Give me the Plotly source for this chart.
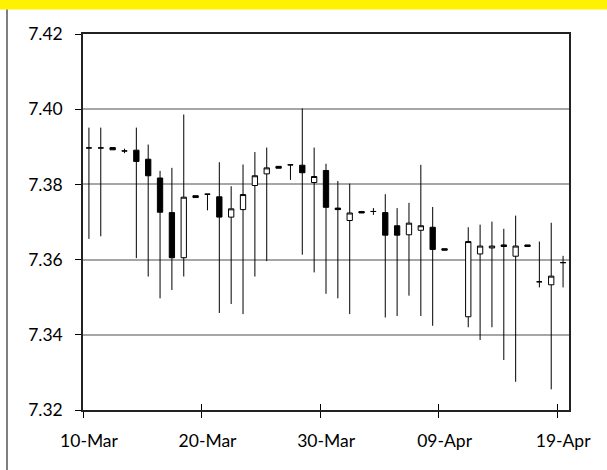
import pandas as pd
import plotly.graph_objects as go

dates = ["2020-03-10", "2020-03-11", "2020-03-12", "2020-03-13", "2020-03-14", "2020-03-15",
         "2020-03-16", "2020-03-17", "2020-03-18", "2020-03-19", "2020-03-20", "2020-03-21",
         "2020-03-22", "2020-03-23", "2020-03-24", "2020-03-25", "2020-03-26", "2020-03-27",
         "2020-03-28", "2020-03-29", "2020-03-30", "2020-03-31", "2020-04-01", "2020-04-02",
         "2020-04-03", "2020-04-04", "2020-04-05", "2020-04-06", "2020-04-07", "2020-04-08",
         "2020-04-09", "2020-04-11", "2020-04-12", "2020-04-13", "2020-04-14", "2020-04-15",
         "2020-04-16", "2020-04-17", "2020-04-18", "2020-04-19"]
open_ = [7.3897, 7.3897, 7.3898, 7.3889, 7.3891, 7.3867, 7.3817, 7.3725, 7.3605, 7.3770,
         7.3774, 7.3767, 7.3713, 7.3733, 7.3797, 7.3828, 7.3848, 7.3852, 7.3851, 7.3805,
         7.3837, 7.3737, 7.3704, 7.3728, 7.3728, 7.3725, 7.3690, 7.3666, 7.3678, 7.3686,
         7.3629, 7.3448, 7.3615, 7.3631, 7.3639, 7.3609, 7.3639, 7.3541, 7.3533, 7.3592]
high = [7.3951, 7.3951, 7.3898, 7.3895, 7.3951, 7.3906, 7.3836, 7.3844, 7.3986, 7.3770,
        7.3774, 7.3859, 7.3795, 7.3853, 7.3886, 7.3898, 7.3848, 7.3853, 7.4002, 7.3898,
        7.3855, 7.3809, 7.3802, 7.3728, 7.3737, 7.3774, 7.3737, 7.3751, 7.3852, 7.3740,
        7.3629, 7.3686, 7.3693, 7.3701, 7.3682, 7.3717, 7.3639, 7.3648, 7.3698, 7.3610]
low = [7.3655, 7.3662, 7.3892, 7.3883, 7.3604, 7.3555, 7.3497, 7.3519, 7.3555, 7.3765,
       7.3731, 7.3458, 7.3482, 7.3455, 7.3555, 7.3596, 7.3843, 7.3812, 7.3613, 7.3566,
       7.3509, 7.3497, 7.3455, 7.3724, 7.3719, 7.3446, 7.3450, 7.3504, 7.3450, 7.3424,
       7.3625, 7.3420, 7.3386, 7.3420, 7.3333, 7.3275, 7.3635, 7.3526, 7.3255, 7.3526]
close = [7.3897, 7.3897, 7.3892, 7.3889, 7.3861, 7.3823, 7.3726, 7.3605, 7.3766, 7.3765,
         7.3774, 7.3713, 7.3735, 7.3773, 7.3823, 7.3844, 7.3843, 7.3852, 7.3831, 7.3821,
         7.3739, 7.3733, 7.3724, 7.3724, 7.3728, 7.3665, 7.3665, 7.3697, 7.3690, 7.3627,
         7.3625, 7.3648, 7.3636, 7.3636, 7.3635, 7.3636, 7.3635, 7.3541, 7.3556, 7.3592]

x_ticks = ["2020-03-10", "2020-03-20", "2020-03-30", "2020-04-09", "2020-04-19"]
x_range = ["2020-03-10", "2020-04-20"]
y_ticks = [7.32, 7.34, 7.36, 7.38, 7.40, 7.42]

xs = pd.to_datetime(dates) + pd.Timedelta(hours=12)

fig = go.Figure()
fig.add_trace(go.Candlestick(
    x=xs, open=open_, high=high, low=low, close=close,
    increasing=dict(line=dict(color="black", width=1), fillcolor="white"),
    decreasing=dict(line=dict(color="black", width=1), fillcolor="black"),
    whiskerwidth=0, showlegend=False, hoverinfo="skip",
))

font = dict(family="Lato, DejaVu Sans, sans-serif", size=17.5, color="black")

L, R, T, B = 83, 38, 34, 60
W, H = 607, 470
pw, ph = W - L - R, H - T - B

fig.update_layout(
    width=W, height=H,
    margin=dict(l=L, r=R, t=T, b=B, pad=0),
    paper_bgcolor="white", plot_bgcolor="white",
    font=font, boxgap=0.36,
    xaxis=dict(
        type="date", range=x_range, tickvals=x_ticks, tickformat="%d-%b",
        ticks="outside", ticklen=6, tickwidth=1, tickcolor="black",
        ticklabelshift=6, ticklabelstandoff=8,
        showline=True, linecolor="#222", linewidth=1.5, mirror=True,
        showgrid=False, zeroline=False, rangeslider=dict(visible=False),
    ),
    xaxis2=dict(
        type="date", range=x_range, tickvals=x_ticks, overlaying="x", anchor="y",
        side="bottom", ticks="inside", ticklen=6, tickwidth=1, tickcolor="black",
        showticklabels=False, showline=False, showgrid=False, zeroline=False,
    ),
    yaxis=dict(
        range=[7.32, 7.42], tickvals=y_ticks, tickformat=".2f",
        ticks="outside", ticklen=6, tickwidth=1, tickcolor="black",
        ticklabelstandoff=9,
        showline=True, linecolor="#222", linewidth=1.5, mirror=True,
        showgrid=True, gridcolor="#a6a6a6", gridwidth=1.5, zeroline=False,
    ),
)

# invisible trace so the overlay axis (inside tick marks) is drawn
fig.add_trace(go.Scatter(x=[xs[0]], y=[low[0]], xaxis="x2", mode="markers",
                         marker=dict(opacity=0), showlegend=False, hoverinfo="skip"))

band_bottom = 9.5
yb = (H - B - band_bottom) / ph
fig.add_shape(type="rect", xref="paper", yref="paper",
              x0=-L / pw - 0.01, x1=(W - L) / pw + 0.01, y0=yb, y1=(H - B) / ph + 0.01,
              fillcolor="#FFF200", line=dict(width=0), layer="above")
xl = (7 - L) / pw
fig.add_shape(type="line", xref="paper", yref="paper",
              x0=xl, x1=xl, y0=-B / ph - 0.01, y1=yb,
              line=dict(color="#555", width=1.5))

fig.write_html("out.html", config={"displayModeBar": False},
               post_script="document.body.style.margin='0';")
